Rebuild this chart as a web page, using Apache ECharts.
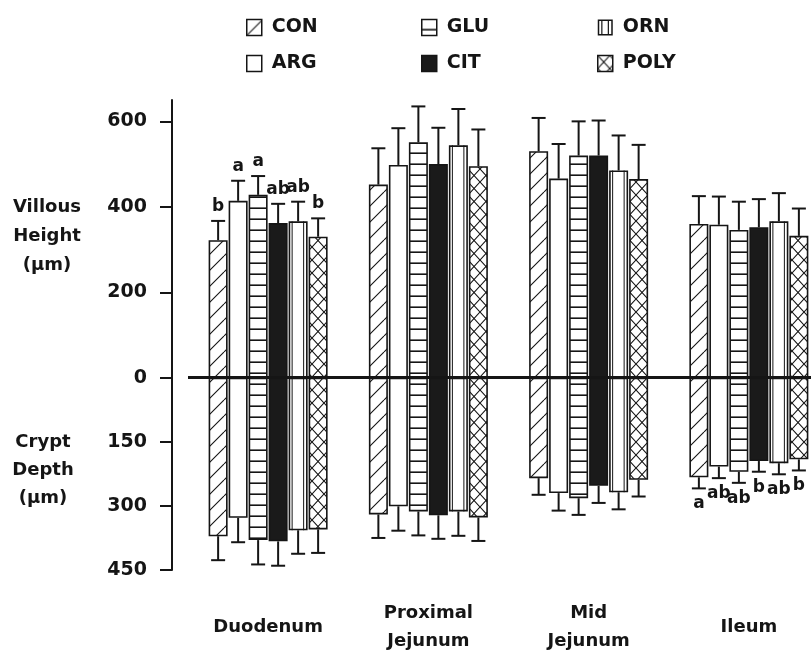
<!DOCTYPE html>
<html>
<head>
<meta charset="utf-8">
<script src="https://cdn.jsdelivr.net/npm/echarts@6/dist/echarts.min.js"></script>
<style>html,body{margin:0;padding:0;background:#fff}#c{width:811px;height:656px}</style>
</head>
<body>
<div id="c"></div>
<script>
// ---- data ----
const categories = ['Duodenum', 'Proximal\nJejunum', 'Mid\nJejunum', 'Ileum'];
const treatments = ['CON', 'ARG', 'GLU', 'CIT', 'ORN', 'POLY'];
const yTickValues = [-450, -300, -150, 0, 200, 400, 600];

// Villous height (µm), per treatment across categories
const villCON  = [322, 452, 530, 360];
const villARG  = [414, 498, 466, 358];
const villGLU  = [428, 551, 520, 346];
const villCIT  = [362, 500, 520, 352];
const villORN  = [366, 544, 485, 366];
const villPOLY = [330, 495, 465, 332];
// Villous height error
const villErrCON  = [45, 85, 78, 65];
const villErrARG  = [47, 86, 81, 66];
const villErrGLU  = [44, 84, 80, 66];
const villErrCIT  = [45, 85, 82, 66];
const villErrORN  = [46, 85, 82, 66];
const villErrPOLY = [43, 86, 80, 64];
// Crypt depth (µm)
const cryptCON  = [371, 320, 235, 233];
const cryptARG  = [328, 301, 270, 208];
const cryptGLU  = [380, 313, 282, 220];
const cryptCIT  = [383, 322, 253, 195];
const cryptORN  = [357, 313, 268, 200];
const cryptPOLY = [355, 327, 239, 191];
// Crypt depth error
const cryptErrCON  = [56, 55, 39, 26];
const cryptErrARG  = [57, 57, 41, 27];
const cryptErrGLU  = [57, 56, 39, 26];
const cryptErrCIT  = [57, 55, 40, 25];
const cryptErrORN  = [55, 57, 40, 26];
const cryptErrPOLY = [55, 55, 39, 26];
// Significance letters (by treatment)
const duodenumVillousLetters = ['b', 'a', 'a', 'ab', 'ab', 'b'];
const ileumCryptLetters      = ['a', 'ab', 'ab', 'b', 'ab', 'b'];

const villous   = [villCON, villARG, villGLU, villCIT, villORN, villPOLY];
const villErr   = [villErrCON, villErrARG, villErrGLU, villErrCIT, villErrORN, villErrPOLY];
const crypt     = [cryptCON, cryptARG, cryptGLU, cryptCIT, cryptORN, cryptPOLY];
const cryptErr  = [cryptErrCON, cryptErrARG, cryptErrGLU, cryptErrCIT, cryptErrORN, cryptErrPOLY];

// ---- styles ----
const INK = '#151515';
const FONT = 'DejaVu Sans';
const BAR_W = 19;
const PITCH = 20;

function pattern(w, h, draw) {
  const c = document.createElement('canvas');
  c.width = w; c.height = h;
  const g = c.getContext('2d');
  g.fillStyle = '#fff'; g.fillRect(0, 0, w, h);
  g.strokeStyle = INK; g.fillStyle = INK; g.lineWidth = 1.1;
  draw(g, w, h);
  return { image: c, repeat: 'repeat' };
}
function diag(g, w, h, dir) {
  g.beginPath();
  for (let s = -1; s <= 1; s++) {
    if (dir > 0) { g.moveTo(s * w, h); g.lineTo(s * w + w, 0); }
    else { g.moveTo(s * w, 0); g.lineTo(s * w + w, h); }
  }
  g.stroke();
}
const fills = [
  pattern(16, 16, (g, w, h) => diag(g, w, h, 1)),
  '#ffffff',
  pattern(8, 11, (g, w, h) => g.fillRect(0, h - 1.6, w, 1.6)),
  '#1a1a1a',
  '#ffffff',
  pattern(12, 13, (g, w, h) => { diag(g, w, h, 1); diag(g, w, h, -1); })
];

const series = [];
treatments.forEach((t, i) => {
  const common = {
    type: 'bar', name: t, stack: t, barWidth: BAR_W, barGap: '5.26%',
    itemStyle: { color: fills[i], borderColor: INK, borderWidth: 1.6 },
    animation: false, silent: true
  };
  series.push(Object.assign({}, common, { data: villous[i].slice() }));
  series.push(Object.assign({}, common, { data: crypt[i].map(v => -v) }));
});
// zero line
series[series.length - 1].markLine = {
  silent: true, symbol: ['none', 'none'], animation: false,
  label: { show: false },
  lineStyle: { color: INK, width: 3, type: 'solid' },
  data: [{ yAxis: 0 }]
};

// error bars, letters, ORN inner lines
treatments.forEach((t, i) => {
  series.push({
    type: 'custom', name: t + ' err', animation: false, silent: true, z: 5,
    data: categories.map((c, ci) => [ci, villous[i][ci], villErr[i][ci], crypt[i][ci], cryptErr[i][ci]]),
    renderItem: function (params, api) {
      const ci = api.value(0);
      const v = api.value(1), ve = api.value(2), cd = api.value(3), ce = api.value(4);
      const cx = api.coord([ci, 0])[0] + (i - 2.5) * PITCH;
      const yT = api.coord([ci, v])[1], yTc = api.coord([ci, v + ve])[1];
      const yB = api.coord([ci, -cd])[1], yBc = api.coord([ci, -(cd + ce)])[1];
      const st = { stroke: INK, lineWidth: 2 };
      const kids = [
        { type: 'line', shape: { x1: cx, y1: yT, x2: cx, y2: yTc }, style: st },
        { type: 'line', shape: { x1: cx - 7, y1: yTc, x2: cx + 7, y2: yTc }, style: st },
        { type: 'line', shape: { x1: cx, y1: yB, x2: cx, y2: yBc }, style: st },
        { type: 'line', shape: { x1: cx - 7, y1: yBc, x2: cx + 7, y2: yBc }, style: st }
      ];
      if (i === 4) {
        const l = cx - BAR_W / 2 + 3.5, r = cx + BAR_W / 2 - 4;
        const ist = { stroke: INK, lineWidth: 1 };
        kids.push({ type: 'line', shape: { x1: l, y1: yT, x2: l, y2: yB }, style: ist });
        kids.push({ type: 'line', shape: { x1: r, y1: yT, x2: r, y2: yB }, style: ist });
      }
      const tf = { fill: INK, font: 'bold 17px "' + FONT + '"', align: 'center' };
      if (ci === 0 && duodenumVillousLetters[i]) {
        kids.push({ type: 'text', style: Object.assign({ text: duodenumVillousLetters[i], x: cx, y: yTc - 6, verticalAlign: 'bottom' }, tf) });
      }
      if (ci === 3 && ileumCryptLetters[i]) {
        kids.push({ type: 'text', style: Object.assign({ text: ileumCryptLetters[i], x: cx, y: yBc + 7, verticalAlign: 'top' }, tf) });
      }
      return { type: 'group', children: kids };
    }
  });
});

const ornIcon = 'path://M0 0H15V16H0Z M1.5 1.5V14.5H13.5V1.5Z M3.5 1.5H4.7V14.5H3.5Z M10 1.5H11.2V14.5H10Z';
function legendCol(names, left) {
  return {
    orient: 'vertical', left: left, top: 13, itemWidth: 15, itemHeight: 16, itemGap: 17,
    icon: 'rect', selectedMode: false,
    itemStyle: { borderColor: INK, borderWidth: 1.5 },
    textStyle: { fontFamily: FONT, fontWeight: 'bold', fontSize: 19, color: INK, padding: [0, 0, 0, 5] },
    data: names.map(n => n === 'ORN'
      ? { name: n, icon: ornIcon, itemStyle: { color: INK, borderWidth: 0 } }
      : { name: n })
  };
}

const chart = echarts.init(document.getElementById('c'), null, { renderer: 'canvas' });
chart.setOption({
  backgroundColor: '#fff',
  animation: false,
  legend: [legendCol(['CON', 'ARG'], 241), legendCol(['GLU', 'CIT'], 416), legendCol(['ORN', 'POLY'], 592)],
  grid: { left: 188, right: -18, top: 100, bottom: 86, containLabel: false, outerBoundsMode: 'none' },
  xAxis: {
    type: 'category', data: categories,
    axisLine: { show: false }, axisTick: { show: false },
    axisLabel: { margin: 57, verticalAlign: 'middle', lineHeight: 28, fontFamily: FONT, fontWeight: 'bold', fontSize: 18, color: INK, interval: 0 }
  },
  yAxis: {
    type: 'value', min: -450, max: 650, offset: 16,
    axisLine: { show: true, lineStyle: { color: INK, width: 2 } },
    axisTick: { show: true, length: 12, customValues: yTickValues, lineStyle: { color: INK, width: 2 } },
    axisLabel: { customValues: yTickValues, formatter: v => String(Math.abs(v)), margin: 25, fontFamily: FONT, fontWeight: 'bold', fontSize: 19, color: INK },
    splitLine: { show: false }
  },
  graphic: [
    { type: 'text', style: { text: 'Villous\nHeight\n(μm)', x: 47, y: 236, align: 'center', verticalAlign: 'middle', lineHeight: 29, font: 'bold 18px "' + FONT + '"', fill: INK } },
    { type: 'text', style: { text: 'Crypt\nDepth\n(μm)', x: 43, y: 470, align: 'center', verticalAlign: 'middle', lineHeight: 28, font: 'bold 18px "' + FONT + '"', fill: INK } }
  ],
  series: series
});
</script>
</body>
</html>
